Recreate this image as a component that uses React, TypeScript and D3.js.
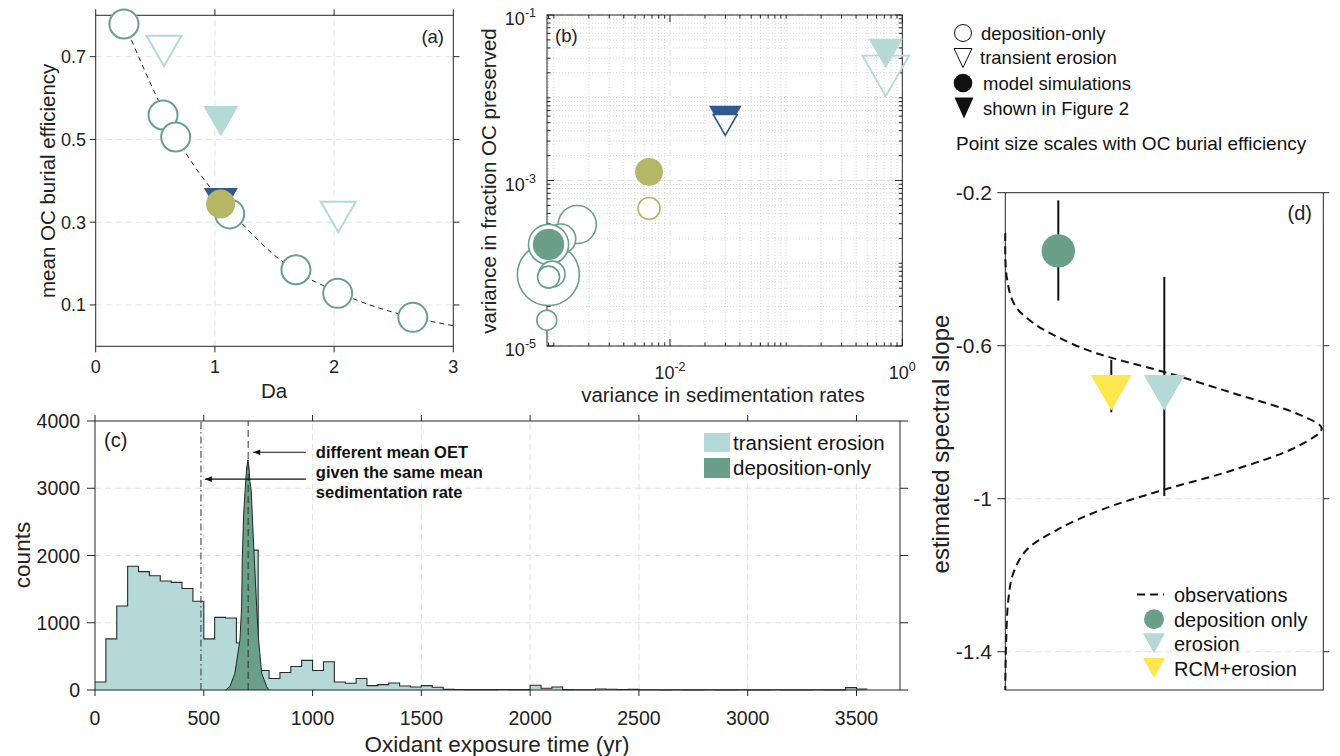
import * as d3 from "d3";

const FONT = "'Liberation Sans', Arial, Helvetica, sans-serif";
const depColor = "#6a9f8a";
const eroColor = "#b5d9d7";
const blue = "#2e5a8e";
const olive = "#b4b866";
const yellow = "#fde74c";
const axisColor = "#262626";
const gridColor = "#e2e2e2";

// (a) mean OC burial efficiency vs Da
const aDepDa = [0.237, 0.565, 0.671, 1.124, 1.68, 2.03, 2.66];
const aDepEff = [0.779, 0.559, 0.506, 0.32, 0.185, 0.128, 0.07];
const aEroOpenDa = [0.573, 2.035];
const aEroOpenEff = [0.714, 0.313];
const aEroFilledDa = [1.05];
const aEroFilledEff = [0.544];
const aBlueDa = [1.05];
const aBlueEff = [0.347];
const aOliveDa = [1.048];
const aOliveEff = [0.344];
const aFitDa = [0.3, 0.5, 0.75, 1, 1.25, 1.5, 1.75, 2, 2.25, 2.5, 2.75, 3];
const aFitEff = [0.74, 0.61, 0.47, 0.37, 0.29, 0.22, 0.17, 0.135, 0.105, 0.082, 0.064, 0.05];
const aXTicks = [0, 1, 2, 3];
const aYTicks = [0.1, 0.3, 0.5, 0.7];

// (b) variance in fraction OC preserved vs variance in sedimentation rates
const bDepVarSed = [8.97e-4, 1.59e-3, 1.15e-3, 9.0e-4, 9.66e-4, 9.0e-4, 8.7e-4];
const bDepVarOC = [7.3e-5, 2.94e-4, 1.97e-4, 1.69e-4, 7.4e-5, 6.8e-5, 2.05e-5];
const bDepEff = [0.74, 0.28, 0.17, 0.31, 0.13, 0.093, 0.077];
const bDepFig2VarSed = [9.0e-4];
const bDepFig2VarOC = [1.69e-4];
const bDepFig2Eff = [0.19];
const bOliveVarSed = [6.6e-3, 6.6e-3];
const bOliveVarOC = [4.6e-4, 1.27e-3];
const bOliveEff = [0.093, 0.15];
const bOliveFilled = [false, true];
const bBlueVarSed = [0.0299, 0.0299];
const bBlueVarOC = [5.4e-3, 4.7e-3];
const bBlueEff = [0.17, 0.092];
const bBlueFilled = [true, false];
const bTealVarSed = [0.72, 0.72];
const bTealVarOC = [0.0184, 0.0343];
const bTealEff = [0.35, 0.185];
const bTealFilled = [false, true];
const bXLabeled = [-2, 0];
const bYLabeled = [-5, -3, -1];

// (c) oxidant exposure time histograms
const cBinWidth = 50;
const cErosionCounts = [
  120, 760, 1250, 1840, 1760, 1700, 1620, 1600, 1510, 1320,
  760, 1080, 1070, 700, 2080, 290, 170, 260, 350, 440,
  290, 420, 120, 100, 170, 65, 80, 105, 60, 45,
  65, 40, 10, 8, 6, 5, 6, 8, 5, 5,
  70, 25, 45, 5, 3, 4, 15, 12, 8, 10,
  4, 3, 2, 3, 2, 2, 3, 2, 2, 3,
  2, 2, 3, 2, 2, 2, 3, 2, 2, 35,
  15,
];
const cDepOET = [600, 620, 643, 666, 674, 677, 683, 690, 697, 703, 708, 712, 718, 723, 732, 743, 752, 766, 789, 800];
const cDepCounts = [0, 50, 250, 740, 1240, 1960, 2600, 2970, 3300, 3420, 3300, 3100, 2970, 2600, 1960, 1240, 740, 250, 50, 0];
const cMeanErosion = 487;
const cMeanDeposition = 704;
const cXTicks = [0, 500, 1000, 1500, 2000, 2500, 3000, 3500];
const cYTicks = [0, 1000, 2000, 3000, 4000];
const cNote = ["different mean OET", "given the same mean", "sedimentation rate"];

// (d) estimated spectral slope
const dNames = ["deposition only", "RCM+erosion", "erosion"];
const dPos = [1, 2, 3];
const dSlope = [-0.352, -0.723, -0.723];
const dLow = [-0.482, -0.774, -0.993];
const dHigh = [-0.22, -0.637, -0.42];
const dObsDensity = [0, 0.026, 0.18, 0.53, 0.97, 1.54, 2.04, 2.98, 4.3, 5.56, 5.97, 5.56, 4.3, 2.98, 1.79, 0.97, 0.4, 0.15, 0.057, 0.013, 0];
const dObsSlope = [-0.306, -0.42, -0.494, -0.541, -0.576, -0.611, -0.633, -0.668, -0.724, -0.781, -0.816, -0.86, -0.925, -0.977, -1.03, -1.082, -1.134, -1.195, -1.265, -1.387, -1.5];
const dYTicks = [-0.2, -0.6, -1, -1.4];

const topLegend = ["deposition-only", "transient erosion", "model simulations", "shown in Figure 2"];

function tri(cx: number, cy: number, w: number, h = w * 0.866) {
  return `M${cx - w / 2},${cy - h / 2}L${cx + w / 2},${cy - h / 2}L${cx},${cy + h / 2}Z`;
}

function isDecade(v: number) {
  const l = Math.log10(v);
  return Math.abs(l - Math.round(l)) < 1e-6;
}

export default function App() {
  // ---------- (a)
  const ax = d3.scaleLinear().domain([0, 3]).range([95.7, 453.3]);
  const ay = d3.scaleLinear().domain([0, 0.8]).range([346.3, 15.3]);
  const aLine = d3
    .line<number>()
    .x((_, i) => ax(aFitDa[i]))
    .y((d) => ay(d))
    .curve(d3.curveMonotoneX);

  // ---------- (b)
  const bx = d3.scaleLog().domain([8.73e-4, 1]).range([547, 902.3]);
  const by = d3.scaleLog().domain([1e-5, 1e-1]).range([346, 15]);
  const bR = d3.scaleSqrt().domain([0, 1]).range([0, 36]);
  const bxTicks = bx.ticks();
  const byTicks = by.ticks();
  const bxMajor = bxTicks.filter((v) => isDecade(v) && bXLabeled.includes(Math.round(Math.log10(v))));
  const byMajor = byTicks.filter((v) => isDecade(v) && bYLabeled.includes(Math.round(Math.log10(v))));
  const bxMinor = bxTicks.filter((v) => !bxMajor.includes(v));
  const byMinor = byTicks.filter((v) => !byMajor.includes(v));

  // ---------- (c)
  const cx = d3.scaleLinear().domain([0, 3700]).range([95, 900]);
  const cy = d3.scaleLinear().domain([0, 4000]).range([690, 421]);
  const cSteps = [...cErosionCounts, cErosionCounts[cErosionCounts.length - 1]];
  const cArea = d3
    .area<number>()
    .x((_, i) => cx(i * cBinWidth))
    .y0(cy(0))
    .y1((d) => cy(d))
    .curve(d3.curveStepAfter);
  const cLine = d3
    .line<number>()
    .x((_, i) => cx(i * cBinWidth))
    .y((d) => cy(d))
    .curve(d3.curveStepAfter);
  const cDepArea = d3
    .area<number>()
    .x((_, i) => cx(cDepOET[i]))
    .y0(cy(0))
    .y1((d) => cy(d));
  const cDepLine = d3
    .line<number>()
    .x((_, i) => cx(cDepOET[i]))
    .y((d) => cy(d));

  // ---------- (d)
  const dx = d3.scaleLinear().domain([0, 6]).range([1005.3, 1323.3]);
  const dy = d3.scaleLinear().domain([-1.5, -0.2]).range([690, 192.7]);
  const dLine = d3
    .line<number>()
    .x((d) => dx(d))
    .y((_, i) => dy(dObsSlope[i]))
    .curve(d3.curveCatmullRom.alpha(0.5));

  const tickLen = 6;

  return (
    <svg
      width={1340}
      height={756}
      style={{ position: "absolute", left: 0, top: 0, background: "#fff" }}
      fontFamily={FONT}
    >
      {/* ================= (a) ================= */}
      <g>
        {aXTicks.slice(1, -1).map((t) => (
          <line key={"agx" + t} x1={ax(t)} x2={ax(t)} y1={ay(0)} y2={ay(0.8)} stroke={gridColor} strokeDasharray="6,4" />
        ))}
        {aYTicks.map((t) => (
          <line key={"agy" + t} x1={ax(0)} x2={ax(3)} y1={ay(t)} y2={ay(t)} stroke={gridColor} strokeDasharray="6,4" />
        ))}
        <rect x={ax(0)} y={ay(0.8)} width={ax(3) - ax(0)} height={ay(0) - ay(0.8)} fill="none" stroke={axisColor} />
        {aXTicks.map((t) => (
          <g key={"axt" + t}>
            <line x1={ax(t)} x2={ax(t)} y1={ay(0)} y2={ay(0) + tickLen} stroke={axisColor} />
            <line x1={ax(t)} x2={ax(t)} y1={ay(0.8)} y2={ay(0.8) - tickLen} stroke={axisColor} />
            <text x={ax(t)} y={373} fontSize={18} textAnchor="middle" fill="#222">
              {t}
            </text>
          </g>
        ))}
        {aYTicks.map((t) => (
          <g key={"ayt" + t}>
            <line x1={ax(0)} x2={ax(0) - tickLen} y1={ay(t)} y2={ay(t)} stroke={axisColor} />
            <line x1={ax(3)} x2={ax(3) + tickLen} y1={ay(t)} y2={ay(t)} stroke={axisColor} />
            <text x={86} y={ay(t)} dy="0.36em" fontSize={18} textAnchor="end" fill="#222">
              {t.toFixed(1)}
            </text>
          </g>
        ))}
        <text x={274} y={398} fontSize={20.5} textAnchor="middle" fill="#222">
          Da
        </text>
        <text
          transform={`translate(47,${(ay(0) + ay(0.8)) / 2}) rotate(-90)`}
          fontSize={20.5}
          textAnchor="middle"
          dominantBaseline="central"
          fill="#222"
        >
          mean OC burial efficiency
        </text>
        <text x={444} y={43} fontSize={18.5} textAnchor="end" fill="#222">
          (a)
        </text>
        <path d={aLine(aFitEff) || ""} fill="none" stroke="#222" strokeWidth={1} strokeDasharray="5,4" />
        {aDepDa.map((d, i) => (
          <circle key={"ad" + i} cx={ax(d)} cy={ay(aDepEff[i])} r={14.5} fill="#fff" stroke={depColor} strokeWidth={2} />
        ))}
        {aEroOpenDa.map((d, i) => (
          <path key={"aeo" + i} d={tri(ax(d), ay(aEroOpenEff[i]), 35)} fill="#fff" stroke={eroColor} strokeWidth={2} />
        ))}
        {aEroFilledDa.map((d, i) => (
          <path key={"aef" + i} d={tri(ax(d), ay(aEroFilledEff[i]), 35)} fill={eroColor} />
        ))}
        {aBlueDa.map((d, i) => (
          <path key={"ab" + i} d={tri(ax(d), ay(aBlueEff[i]), 34)} fill={blue} />
        ))}
        {aOliveDa.map((d, i) => (
          <circle key={"ao" + i} cx={ax(d)} cy={ay(aOliveEff[i])} r={14.5} fill={olive} />
        ))}
      </g>

      {/* ================= (b) ================= */}
      <g>
        {bxMinor.map((t, i) => (
          <line key={"bgxm" + i} x1={bx(t)} x2={bx(t)} y1={346} y2={15} stroke="#cfcfcf" strokeWidth={0.8} strokeDasharray="1,2" />
        ))}
        {byMinor.map((t, i) => (
          <line key={"bgym" + i} x1={547} x2={902.3} y1={by(t)} y2={by(t)} stroke="#cfcfcf" strokeWidth={0.8} strokeDasharray="1,2" />
        ))}
        {bxMajor.map((t, i) => (
          <line key={"bgx" + i} x1={bx(t)} x2={bx(t)} y1={346} y2={15} stroke={gridColor} strokeDasharray="6,4" />
        ))}
        {byMajor.map((t, i) => (
          <line key={"bgy" + i} x1={547} x2={902.3} y1={by(t)} y2={by(t)} stroke={gridColor} strokeDasharray="6,4" />
        ))}
        <rect x={547} y={15} width={902.3 - 547} height={346 - 15} fill="none" stroke={axisColor} />
        {bxTicks.map((t, i) => {
          const len = bxMajor.includes(t) ? 7 : 3.5;
          return (
            <g key={"bxt" + i}>
              <line x1={bx(t)} x2={bx(t)} y1={346} y2={346 - len} stroke={axisColor} />
              <line x1={bx(t)} x2={bx(t)} y1={15} y2={15 + len} stroke={axisColor} />
            </g>
          );
        })}
        {byTicks.map((t, i) => {
          const len = byMajor.includes(t) ? 7 : 3.5;
          return (
            <g key={"byt" + i}>
              <line x1={547} x2={547 + len} y1={by(t)} y2={by(t)} stroke={axisColor} />
              <line x1={902.3} x2={902.3 - len} y1={by(t)} y2={by(t)} stroke={axisColor} />
            </g>
          );
        })}
        {bxMajor.map((t, i) => (
          <text key={"bxl" + i} x={bx(t)} y={379} fontSize={18} textAnchor="middle" fill="#222">
            10
            <tspan dy={-8} fontSize={12.5}>
              {Math.round(Math.log10(t))}
            </tspan>
          </text>
        ))}
        {byMajor.map((t, i) => (
          <text key={"byl" + i} x={536} y={by(t) + 10} fontSize={18} textAnchor="end" fill="#222">
            10
            <tspan dy={-8} fontSize={12.5}>
              {Math.round(Math.log10(t))}
            </tspan>
          </text>
        ))}
        <text x={723} y={402} fontSize={20.5} textAnchor="middle" fill="#222">
          variance in sedimentation rates
        </text>
        <text
          transform={`translate(488,181) rotate(-90)`}
          fontSize={20.5}
          textAnchor="middle"
          dominantBaseline="central"
          fill="#222"
        >
          variance in fraction OC preserved
        </text>
        <text x={555} y={42} fontSize={18.5} fill="#222">
          (b)
        </text>
        {bDepVarSed.map((v, i) => (
          <circle key={"bd" + i} cx={bx(v)} cy={by(bDepVarOC[i])} r={bR(bDepEff[i])} fill="#fff" stroke={depColor} strokeWidth={1.6} />
        ))}
        {bDepFig2VarSed.map((v, i) => (
          <circle key={"bdf" + i} cx={bx(v)} cy={by(bDepFig2VarOC[i])} r={bR(bDepFig2Eff[i])} fill={depColor} />
        ))}
        {bOliveVarSed.map((v, i) => (
          <circle
            key={"bo" + i}
            cx={bx(v)}
            cy={by(bOliveVarOC[i])}
            r={bR(bOliveEff[i])}
            fill={bOliveFilled[i] ? olive : "#fff"}
            stroke={bOliveFilled[i] ? "none" : olive}
            strokeWidth={1.6}
          />
        ))}
        {bBlueVarSed.map((v, i) => (
          <path
            key={"bb" + i}
            d={tri(bx(v), by(bBlueVarOC[i]), 2.2 * bR(bBlueEff[i]))}
            fill={bBlueFilled[i] ? blue : "#fff"}
            stroke={bBlueFilled[i] ? "none" : blue}
            strokeWidth={1.6}
          />
        ))}
        {bTealVarSed.map((v, i) => (
          <path
            key={"bt" + i}
            d={tri(bx(v), by(bTealVarOC[i]), 2.2 * bR(bTealEff[i]))}
            fill={bTealFilled[i] ? eroColor : "none"}
            stroke={bTealFilled[i] ? "none" : eroColor}
            strokeWidth={1.8}
          />
        ))}
      </g>

      {/* ================= top-right legend ================= */}
      <g fontSize={18.5} fill="#111">
        <circle cx={963} cy={33} r={8.5} fill="#fff" stroke="#111" />
        <path d={tri(963, 58, 18, 19)} fill="#fff" stroke="#111" />
        <circle cx={963} cy={83} r={9.3} fill="#111" />
        <path d={tri(964, 108, 19, 21)} fill="#111" />
        {topLegend.map((t, i) => (
          <text key={"tl" + i} x={[981, 980, 983, 983][i]} y={[33, 57, 83, 108][i]} dy="0.36em">
            {t}
          </text>
        ))}
        <text x={956} y={143} dy="0.36em" fontSize={19}>
          Point size scales with OC burial efficiency
        </text>
      </g>

      {/* ================= (c) ================= */}
      <g>
        {cXTicks.slice(1).map((t) => (
          <line key={"cgx" + t} x1={cx(t)} x2={cx(t)} y1={cy(0)} y2={cy(4000)} stroke={gridColor} strokeDasharray="6,4" />
        ))}
        {cYTicks.slice(1, -1).map((t) => (
          <line key={"cgy" + t} x1={cx(0)} x2={cx(3700)} y1={cy(t)} y2={cy(t)} stroke={gridColor} strokeDasharray="6,4" />
        ))}
        <path d={cArea(cSteps) || ""} fill={eroColor} />
        <path d={cLine(cSteps) || ""} fill="none" stroke="#2a2a2a" strokeWidth={1.1} />
        <path d={cDepArea(cDepCounts) || ""} fill={depColor} />
        <path d={cDepLine(cDepCounts) || ""} fill="none" stroke="#1e2a24" strokeWidth={1} />
        <line x1={cx(cMeanErosion)} x2={cx(cMeanErosion)} y1={cy(0)} y2={cy(4000)} stroke="#333" strokeDasharray="7,3,1.5,3" />
        <line x1={cx(cMeanDeposition)} x2={cx(cMeanDeposition)} y1={cy(0)} y2={cy(4000)} stroke="#333" strokeDasharray="7,4" />
        <rect x={cx(0)} y={cy(4000)} width={cx(3700) - cx(0)} height={cy(0) - cy(4000)} fill="none" stroke={axisColor} />
        {cXTicks.map((t) => (
          <g key={"cxt" + t}>
            <line x1={cx(t)} x2={cx(t)} y1={cy(0)} y2={cy(0) + tickLen} stroke={axisColor} />
            <line x1={cx(t)} x2={cx(t)} y1={cy(4000)} y2={cy(4000) - tickLen} stroke={axisColor} />
            <text x={cx(t)} y={725} fontSize={19.5} textAnchor="middle" fill="#222">
              {t}
            </text>
          </g>
        ))}
        {cYTicks.map((t) => (
          <g key={"cyt" + t}>
            <line x1={cx(0)} x2={cx(0) - 8} y1={cy(t)} y2={cy(t)} stroke={axisColor} />
            <line x1={cx(3700)} x2={cx(3700) + 8} y1={cy(t)} y2={cy(t)} stroke={axisColor} />
            <text x={80} y={cy(t)} dy="0.36em" fontSize={19.5} textAnchor="end" fill="#222">
              {t}
            </text>
          </g>
        ))}
        <text x={497} y={752} fontSize={22.5} textAnchor="middle" fill="#222">
          Oxidant exposure time (yr)
        </text>
        <text
          transform={`translate(22,555) rotate(-90)`}
          fontSize={22.5}
          textAnchor="middle"
          dominantBaseline="central"
          fill="#222"
        >
          counts
        </text>
        <text x={104} y={447} fontSize={20} fill="#222">
          (c)
        </text>
        {/* annotation */}
        <defs>
          <marker id="arr" viewBox="0 0 10 10" refX="10" refY="5" markerWidth="9" markerHeight="7" orient="auto-start-reverse" markerUnits="userSpaceOnUse">
            <path d="M0,1L10,5L0,9Z" fill="#111" />
          </marker>
        </defs>
        <line x1={cx(969)} x2={cx(727)} y1={cy(3535)} y2={cy(3535)} stroke="#111" strokeWidth={1.2} markerEnd="url(#arr)" />
        <line x1={cx(969)} x2={cx(505)} y1={cy(3135)} y2={cy(3135)} stroke="#111" strokeWidth={1.2} markerEnd="url(#arr)" />
        {cNote.map((t, i) => (
          <text key={"cn" + i} x={cx(1015)} y={452 + i * 20} dy="0.36em" fontSize={16.5} fontWeight="bold" fill="#111">
            {t}
          </text>
        ))}
        {/* legend */}
        <rect x={700} y={422} width={198} height={62} fill="#fff" />
        <rect x={704} y={433} width={26} height={19} fill={eroColor} />
        <rect x={704} y={458} width={26} height={20} fill={depColor} />
        <text x={733} y={443} dy="0.36em" fontSize={20.5} fill="#111">
          transient erosion
        </text>
        <text x={733} y={468} dy="0.36em" fontSize={20.5} fill="#111">
          deposition-only
        </text>
      </g>

      {/* ================= (d) ================= */}
      <g>
        {dYTicks.slice(1).map((t) => (
          <line key={"dgy" + t} x1={dx(0)} x2={dx(6)} y1={dy(t)} y2={dy(t)} stroke={gridColor} strokeDasharray="6,4" />
        ))}
        <rect x={dx(0)} y={dy(-0.2)} width={dx(6) - dx(0)} height={dy(-1.5) - dy(-0.2)} fill="none" stroke={axisColor} />
        {dYTicks.map((t) => (
          <g key={"dyt" + t}>
            <line x1={dx(0)} x2={dx(0) - 8} y1={dy(t)} y2={dy(t)} stroke={axisColor} />
            <line x1={dx(6)} x2={dx(6) + 6} y1={dy(t)} y2={dy(t)} stroke={axisColor} />
            <text x={992} y={dy(t)} dy="0.36em" fontSize={21} textAnchor="end" fill="#222">
              {String(t)}
            </text>
          </g>
        ))}
        <text
          transform={`translate(940,444) rotate(-90)`}
          fontSize={24}
          textAnchor="middle"
          dominantBaseline="central"
          fill="#222"
        >
          estimated spectral slope
        </text>
        <text x={1312} y={220} fontSize={20} textAnchor="end" fill="#222">
          (d)
        </text>
        <path d={dLine(dObsDensity) || ""} fill="none" stroke="#111" strokeWidth={2} strokeDasharray="8,5" />
        {dPos.map((p, i) => (
          <line key={"de" + i} x1={dx(p)} x2={dx(p)} y1={dy(dLow[i])} y2={dy(dHigh[i])} stroke="#111" strokeWidth={2} />
        ))}
        {dPos.map((p, i) =>
          i === 0 ? (
            <circle key={"dm" + i} cx={dx(p)} cy={dy(dSlope[i])} r={16.7} fill={depColor} />
          ) : (
            <path key={"dm" + i} d={tri(dx(p), dy(dSlope[i]), 41)} fill={i === 1 ? yellow : eroColor} />
          )
        )}
        {/* legend */}
        <line x1={1137} x2={1164} y1={594.5} y2={594.5} stroke="#111" strokeWidth={2} strokeDasharray="8,5" />
        <circle cx={1154} cy={619.3} r={10} fill={depColor} />
        <path d={tri(1154, 643.3, 22, 20)} fill={eroColor} />
        <path d={tri(1154, 668, 22, 20)} fill={yellow} />
        {["observations", dNames[0], dNames[2], dNames[1]].map((t, i) => (
          <text key={"dl" + i} x={1174} y={[595, 619.5, 643.5, 668.5][i]} dy="0.36em" fontSize={20} fill="#111">
            {t}
          </text>
        ))}
      </g>
    </svg>
  );
}
